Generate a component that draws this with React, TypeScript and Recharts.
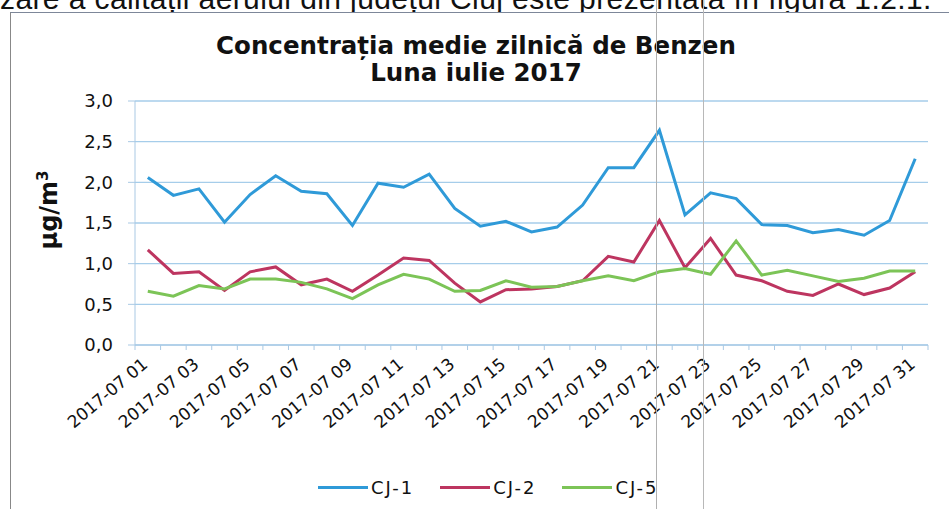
import React from "react";
import { LineChart, Line, XAxis, YAxis, CartesianGrid, Legend } from "recharts";

const dates = [
  "2017-07 01", "2017-07 02", "2017-07 03", "2017-07 04", "2017-07 05", "2017-07 06", "2017-07 07", "2017-07 08",
  "2017-07 09", "2017-07 10", "2017-07 11", "2017-07 12", "2017-07 13", "2017-07 14", "2017-07 15", "2017-07 16",
  "2017-07 17", "2017-07 18", "2017-07 19", "2017-07 20", "2017-07 21", "2017-07 22", "2017-07 23", "2017-07 24",
  "2017-07 25", "2017-07 26", "2017-07 27", "2017-07 28", "2017-07 29", "2017-07 30", "2017-07 31",
];

const cj1 = [2.06, 1.84, 1.92, 1.51, 1.85, 2.08, 1.89, 1.86, 1.47, 1.99, 1.94, 2.10, 1.68, 1.46, 1.52, 1.39,
  1.45, 1.72, 2.18, 2.18, 2.64, 1.60, 1.87, 1.80, 1.48, 1.47, 1.38, 1.42, 1.35, 1.53, 2.29];
const cj2 = [1.17, 0.88, 0.90, 0.67, 0.90, 0.96, 0.74, 0.81, 0.66, 0.86, 1.07, 1.04, 0.76, 0.53, 0.68, 0.69,
  0.72, 0.79, 1.09, 1.02, 1.53, 0.95, 1.31, 0.86, 0.79, 0.66, 0.61, 0.75, 0.62, 0.70, 0.90];
const cj5 = [0.66, 0.60, 0.73, 0.69, 0.81, 0.81, 0.77, 0.69, 0.57, 0.74, 0.87, 0.81, 0.66, 0.67, 0.79, 0.71,
  0.72, 0.79, 0.85, 0.79, 0.90, 0.94, 0.87, 1.28, 0.86, 0.92, 0.85, 0.78, 0.82, 0.91, 0.91];

const yTicks = [0, 0.5, 1.0, 1.5, 2.0, 2.5, 3.0];
const seriesNames = ["CJ-1", "CJ-2", "CJ-5"];
const seriesColors = ["#2f9ad8", "#bd3560", "#7cc457"];

const titleLine1 = "Concentrația medie zilnică de Benzen";
const titleLine2 = "Luna iulie 2017";
const unitLabel = "µg/m";
const docText = "zare a calității aerului din județul Cluj este prezentată în figura 1.2.1.";

const data = dates.map((d, i) => ({ date: d, "CJ-1": cj1[i], "CJ-2": cj2[i], "CJ-5": cj5[i] }));

const W = 949;
const H = 509;
const PLOT_LEFT = 135;
const PLOT_RIGHT = 928;
const PLOT_TOP = 101;
const PLOT_BOTTOM = 345;
const LEGEND_H = 24;
const BAND = (PLOT_RIGHT - PLOT_LEFT) / dates.length;
const FONT = "'DejaVu Sans', sans-serif";
const AXIS_COLOR = "#a9c9e4";
const GRID_COLOR = "#a6cdea";

const XTick = (props: any) => {
  const { x, y, payload, index } = props;
  const showLabel = index % 2 === 0;
  const last = index === dates.length - 1;
  return (
    <g>
      <line x1={x - BAND / 2} y1={y} x2={x - BAND / 2} y2={y + 5} stroke={AXIS_COLOR} />
      {last && <line x1={x + BAND / 2} y1={y} x2={x + BAND / 2} y2={y + 5} stroke={AXIS_COLOR} />}
      {showLabel && (
        <text
          x={x + 1}
          y={y + 21}
          textAnchor="end"
          fontSize={17}
          fontFamily={FONT}
          fill="#111"
          transform={`rotate(-40, ${x + 1}, ${y + 21})`}
        >
          {payload.value}
        </text>
      )}
    </g>
  );
};

const LegendContent = () => (
  <div style={{ display: "flex", alignItems: "center", height: LEGEND_H, paddingLeft: 318, fontFamily: FONT }}>
    {seriesNames.map((n, i) => (
      <div key={n} style={{ display: "flex", alignItems: "center", marginRight: i < 2 ? 26 : 0 }}>
        <div style={{ width: 50, height: 3, background: seriesColors[i] }} />
        <span style={{ fontSize: 18, color: "#111", marginLeft: 3, letterSpacing: 2 }}>{n}</span>
      </div>
    ))}
  </div>
);

export default function App() {
  return (
    <div style={{ position: "absolute", left: 0, top: 0, width: W, height: H, background: "#fff", overflow: "hidden" }}>
      <div style={{ position: "absolute", left: 0, top: 0, width: W, height: 12, overflow: "hidden" }}>
        <div
          style={{
            position: "absolute",
            top: -16,
            left: 0,
            whiteSpace: "nowrap",
            fontFamily: "'Liberation Sans', Arial, sans-serif",
            fontSize: 30,
            lineHeight: "30px",
            color: "#111",
            letterSpacing: 0.4,
          }}
        >
          {docText}
        </div>
      </div>
      <div
        style={{
          position: "absolute",
          left: 10,
          top: 12,
          width: W,
          height: H,
          borderLeft: "1px solid #888",
          borderTop: "1px solid #7d8799",
        }}
      />
      <div
        style={{
          position: "absolute",
          left: 0,
          width: 952,
          top: 32,
          textAlign: "center",
          fontFamily: FONT,
          fontWeight: "bold",
          fontSize: 24.5,
          lineHeight: "27px",
          color: "#111",
        }}
      >
        <div>{titleLine1}</div>
        <div>{titleLine2}</div>
      </div>
      <div
        style={{
          position: "absolute",
          left: 48,
          top: 210,
          transform: "translate(-50%, -50%) rotate(-90deg)",
          fontFamily: FONT,
          fontWeight: "bold",
          fontSize: 24,
          whiteSpace: "nowrap",
          color: "#111",
        }}
      >
        {unitLabel}
        <sup style={{ fontSize: 15 }}>3</sup>
      </div>
      <div style={{ position: "absolute", left: 0, top: 0 }}>
        <LineChart
          width={W}
          height={H}
          data={data}
          margin={{ top: PLOT_TOP, right: W - PLOT_RIGHT, left: 0, bottom: 10 }}
          style={{ fontFamily: FONT }}
        >
          <CartesianGrid vertical={false} stroke={GRID_COLOR} strokeWidth={1.3} />
          <XAxis
            dataKey="date"
            interval={0}
            tickSize={0}
            tickMargin={0}
            tickLine={false}
            padding={{ left: BAND / 2, right: BAND / 2 }}
            axisLine={{ stroke: AXIS_COLOR }}
            height={H - PLOT_BOTTOM - LEGEND_H - 10}
            tick={<XTick />}
          />
          <YAxis
            width={PLOT_LEFT}
            domain={[0, 3]}
            ticks={yTicks}
            tickSize={7}
            tickMargin={15}
            axisLine={{ stroke: AXIS_COLOR }}
            tickLine={{ stroke: AXIS_COLOR }}
            tick={{ fill: "#111", fontSize: 18, fontFamily: FONT }}
            tickFormatter={(v: number) => v.toFixed(1).replace(".", ",")}
          />
          <Legend verticalAlign="bottom" content={<LegendContent />} wrapperStyle={{ height: LEGEND_H }} />
          {seriesNames.map((n, i) => (
            <Line
              key={n}
              type="linear"
              dataKey={n}
              stroke={seriesColors[i]}
              strokeWidth={3}
              dot={false}
              isAnimationActive={false}
            />
          ))}
        </LineChart>
      </div>
      <div style={{ position: "absolute", left: 656, top: 0, width: 1, height: H, background: "#b0b0b0" }} />
      <div style={{ position: "absolute", left: 703, top: 0, width: 1, height: H, background: "#b8b8b8" }} />
    </div>
  );
}
